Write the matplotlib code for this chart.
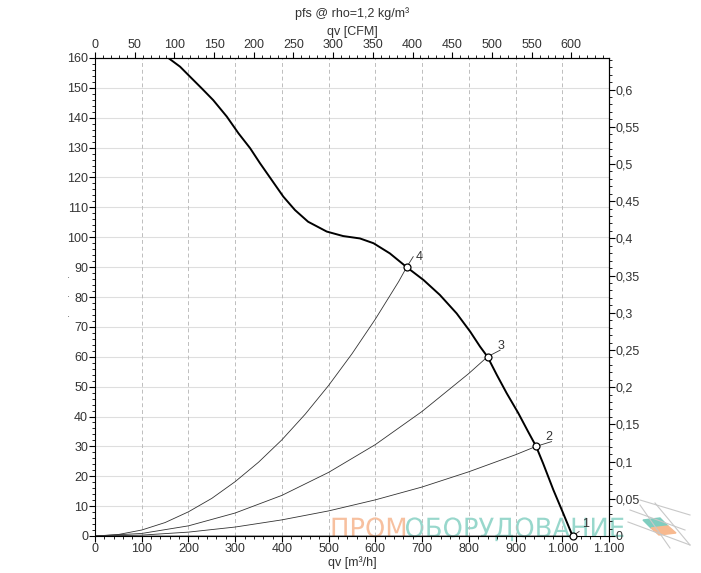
import matplotlib
matplotlib.use('Agg')
import matplotlib.pyplot as plt
from matplotlib.ticker import MultipleLocator, FuncFormatter
from matplotlib.patches import Polygon, PathPatch
from matplotlib.textpath import TextPath
from matplotlib.font_manager import FontProperties
from matplotlib.transforms import Affine2D, IdentityTransform

plt.rcParams['font.family'] = ['Liberation Sans', 'DejaVu Sans']

# fan curve pfs [Pa] vs qv [m3/h]
fan_q = [157, 182, 203, 228, 253, 282, 307, 332, 353, 378, 403, 428, 456, 496, 531,
         567, 596, 631, 667, 703, 738, 774, 803, 824, 840, 860, 881, 906, 927, 944,
         959, 981, 1002, 1022]
fan_p = [160, 157.1, 153.8, 149.9, 145.9, 140.4, 134.8, 129.8, 124.8, 119.2, 113.6, 109.1,
         105.2, 101.9, 100.4, 99.6, 98.0, 94.6, 90, 85.7, 80.7, 74.5, 68.4, 63.4, 60, 53.9,
         47.8, 41.1, 34.9, 30, 24.3, 15.4, 7.6, 0]

# system curves
sys4_q = [0, 50, 100, 150, 200, 250, 300, 350, 400, 450, 500, 550, 600, 650, 667, 681]
sys4_p = [0, 0.5, 2.0, 4.5, 8.1, 12.6, 18.2, 24.7, 32.2, 40.8, 50.4, 61.0, 72.6, 85.2, 90, 93.5]
sys3_q = [0, 100, 200, 300, 400, 500, 600, 700, 800, 840, 867]
sys3_p = [0, 0.85, 3.4, 7.7, 13.6, 21.3, 30.6, 41.7, 54.4, 60, 62.2]
sys2_q = [0, 100, 200, 300, 400, 500, 600, 700, 800, 900, 944, 977]
sys2_p = [0, 0.3, 1.3, 3.0, 5.4, 8.4, 12.1, 16.4, 21.5, 27.2, 30, 31.6]
sys1_q = [0, 1022, 1036]
sys1_p = [0, 0, 1.5]

op_q = [1022, 944, 840, 667]
op_p = [0, 30, 60, 90]
op_labels = ['1', '2', '3', '4']
label_q = [1049, 972, 869, 693]
label_p = [4, 33.3, 63.6, 93.4]

CFM = 1.699
INWG = 249.089
txt = '#333333'

fig = plt.figure(figsize=(7.01, 5.73), dpi=100)
ax = fig.add_axes([95 / 701, 37 / 573, 514 / 701, 478 / 573])
ax.patch.set_alpha(0)
ax.set_xlim(0, 1100)
ax.set_ylim(0, 160)

# grid
for y in range(10, 160, 10):
    ax.axhline(y, color='#dedede', lw=0.8, zorder=0)
for x in range(100, 1100, 100):
    ax.axvline(x, color='#bdbdbd', lw=0.7, ls=(0, (4, 3)), zorder=0)

for q, p in [(sys4_q, sys4_p), (sys3_q, sys3_p), (sys2_q, sys2_p), (sys1_q, sys1_p)]:
    ax.plot(q, p, color='#333333', lw=0.6, zorder=2)
ax.plot(fan_q, fan_p, color='black', lw=1.4, zorder=3)
ax.plot(op_q, op_p, 'o', ms=5, mfc='white', mec='black', mew=0.9, zorder=4, clip_on=False)
for q, p, s in zip(label_q, label_p, op_labels):
    ax.text(q, p, s, fontsize=9, color=txt, ha='center', va='center', zorder=5)

ax.xaxis.set_major_locator(MultipleLocator(100))
ax.xaxis.set_minor_locator(MultipleLocator(20))
ax.yaxis.set_major_locator(MultipleLocator(10))
ax.yaxis.set_minor_locator(MultipleLocator(2))
ax.xaxis.set_major_formatter(FuncFormatter(lambda v, p: f'{int(v):,}'.replace(',', '.')))
ax.tick_params(which='major', length=4, width=0.8, labelsize=9, labelcolor=txt, pad=1)
ax.tick_params(which='minor', length=2, width=0.6)
ax.set_xlabel('qv [m³/h]', fontsize=9, color=txt, labelpad=1)

top = ax.secondary_xaxis('top', functions=(lambda q: q / CFM, lambda c: c * CFM))
top.xaxis.set_major_locator(MultipleLocator(50))
top.xaxis.set_minor_locator(MultipleLocator(10))
top.tick_params(which='major', length=4, width=0.8, labelsize=9, labelcolor=txt, pad=1)
top.tick_params(which='minor', length=2, width=0.6)
top.set_xlabel('qv [CFM]', fontsize=9, color=txt, labelpad=3)

right = ax.secondary_yaxis('right', functions=(lambda p: p / INWG, lambda w: w * INWG))
right.yaxis.set_major_locator(MultipleLocator(0.05))
right.yaxis.set_minor_locator(MultipleLocator(0.01))
right.yaxis.set_major_formatter(FuncFormatter(lambda v, p: f'{v:.2f}'.rstrip('0').rstrip('.').replace('.', ',')))
right.tick_params(which='major', length=4, width=0.8, labelsize=9, labelcolor=txt, pad=1)
right.tick_params(which='minor', length=2, width=0.6)

fig.text(352 / 701, 1 - 14 / 573, 'pfs @ rho=1,2 kg/m³', fontsize=9, color=txt, ha='center', va='center')
for yy in [278, 297, 317]:
    fig.text(68 / 701, 1 - yy / 573, '·', fontsize=7, color='#555555', ha='center', va='center')

# watermark, narrowed text drawn in pixel coordinates, behind the axes content
fp = FontProperties(family='DejaVu Sans')
wm1 = TextPath((0, 0), 'ПРОМ', size=28, prop=fp)
wm2 = TextPath((0, 0), 'ОБОРУДОВАНИЕ', size=28, prop=fp)
w1 = wm1.get_extents().width
w2 = wm2.get_extents().width
sx = 290 / (w1 + w2)
sy = 20 / wm1.get_extents().height
base = 573 - 537
fig.add_artist(PathPatch(wm1, transform=Affine2D().scale(sx, sy).translate(330, base) + IdentityTransform(),
                         color='#f6b58e', alpha=0.85, lw=0, zorder=-1))
fig.add_artist(PathPatch(wm2, transform=Affine2D().scale(sx, sy).translate(332 + w1 * sx, base) + IdentityTransform(),
                         color='#86d1c3', alpha=0.85, lw=0, zorder=-1))
for x0, y0, x1, y1 in [(630, 510, 685, 530), (628, 522, 690, 545), (640, 500, 690, 515),
                       (640, 505, 670, 548), (655, 503, 690, 545)]:
    fig.add_artist(plt.Line2D([x0 / 701, x1 / 701], [1 - y0 / 573, 1 - y1 / 573],
                              color='#c8c8c8', lw=0.8))
fig.add_artist(Polygon([(643 / 701, 1 - 520 / 573), (660 / 701, 1 - 518 / 573),
                        (668 / 701, 1 - 526 / 573), (651 / 701, 1 - 528 / 573)],
                       closed=True, color='#7fcdbf', transform=fig.transFigure))
fig.add_artist(Polygon([(651 / 701, 1 - 528 / 573), (668 / 701, 1 - 526 / 573),
                        (676 / 701, 1 - 533 / 573), (659 / 701, 1 - 535 / 573)],
                       closed=True, color='#f7b98f', transform=fig.transFigure))

fig.savefig('out.png', dpi=100)
